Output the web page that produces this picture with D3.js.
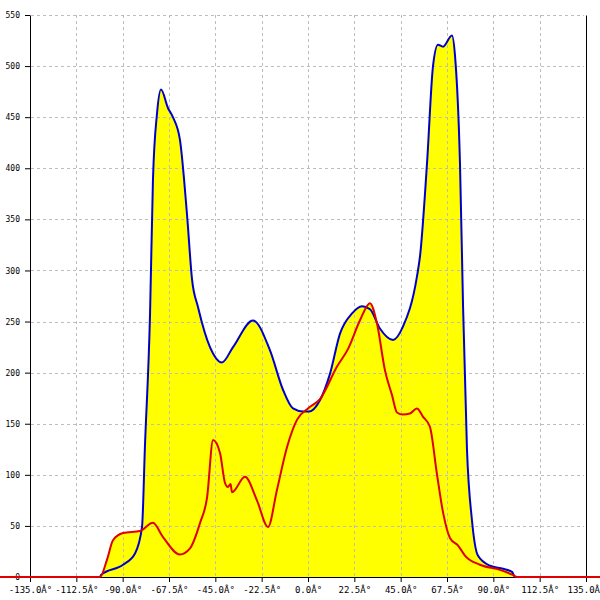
<!DOCTYPE html>
<html><head><meta charset="utf-8">
<script src="https://cdn.jsdelivr.net/npm/d3@7"></script>
<style>body{margin:0;background:#fff}svg{display:block}</style>
</head><body>
<script>
const xTicks = [-135, -112.5, -90, -67.5, -45, -22.5, 0, 22.5, 45, 67.5, 90, 112.5, 135];
const yTicks = [0, 50, 100, 150, 200, 250, 300, 350, 400, 450, 500, 550];
const blueAngles = [-150, -101.0, -100.5, -89.8, -84.0, -80.6, -79.2, -76.7, -75.3, -73.3, -71.4, -68.0, -65.6, -62.2, -58.8, -56.3, -53.4, -47.6, -41.8, -36.4, -26.7, -18.5, -12.1, -7.3, -2.4, 0.5, 5.8, 10.7, 15.5, 21.4, 26.2, 30.1, 35.0, 41.3, 46.1, 52.9, 54.4, 57.8, 60.7, 63.1, 65.6, 69.9, 71.4, 73.8, 75.3, 77.2, 79.6, 82.5, 88.4, 94.7, 99.1, 100.5, 150];
const blueValues = [0, 0, 2, 12, 23, 49, 127, 258, 388, 454, 477, 459, 450, 428, 356, 291, 264, 225, 210, 225, 251, 222, 183, 165, 162, 162, 173, 199, 238, 258, 265, 262, 243, 232, 245, 294, 314, 405, 500, 521, 519, 530, 510, 405, 265, 125, 56, 21, 11, 8, 5, 0, 0];
const redAngles = [-150, -101.0, -97.6, -94.7, -89.8, -81.6, -75.3, -70.4, -62.2, -57.3, -52.4, -49.0, -46.1, -42.7, -40.3, -38.9, -37.6, -36.9, -30.6, -24.8, -19.4, -15.1, -10.2, -5.3, 0.0, 5.8, 14.1, 19.4, 25.2, 30.1, 33.5, 37.4, 40.8, 43.2, 46.1, 49.5, 52.9, 55.8, 59.2, 62.6, 65.6, 69.0, 72.8, 76.2, 83.5, 93.2, 99.5, 101.5, 150];
const redValues = [0, 0, 17, 36, 43, 45, 53, 39, 22, 28, 53, 78, 134, 121, 92, 88, 91, 83, 98, 75, 49, 85, 127, 154, 165, 174, 206, 223, 251, 268, 248, 202, 178, 161, 159, 160, 165, 157, 147, 101, 63, 38, 31, 21, 12, 7, 2, 0, 0];

const blue = blueAngles.map((a, i) => ({a, v: blueValues[i]}));
const red = redAngles.map((a, i) => ({a, v: redValues[i]}));

const W = 600, H = 600;
const svg = d3.select("body").append("svg").attr("width", W).attr("height", H);
const x = d3.scaleLinear().domain([-135, 135]).range([30, 586]);
const y = d3.scaleLinear().domain([0, 550]).range([577, 15]);

// fill areas
const area = d3.area().x(d => x(d.a)).y0(y(0)).y1(d => y(d.v)).curve(d3.curveMonotoneX);
svg.append("path").datum(blue).attr("d", area).attr("fill", "#ffff00");
svg.append("path").datum(red).attr("d", area).attr("fill", "#ffff00");

// grid
const grid = svg.append("g").attr("stroke", "#bdbdbd").attr("stroke-width", 1).attr("stroke-dasharray", "3,3");
yTicks.filter(t => t > 0).forEach(t => {
  grid.append("line").attr("x1", 31).attr("x2", 584).attr("y1", Math.round(y(t)) + 0.5).attr("y2", Math.round(y(t)) + 0.5);
});
xTicks.filter(t => t > -135 && t < 135).forEach(t => {
  grid.append("line").attr("x1", Math.round(x(t)) + 0.5).attr("x2", Math.round(x(t)) + 0.5).attr("y1", 15).attr("y2", 576);
});

// axes
const xAxis = d3.axisBottom(x).tickValues(xTicks).tickSize(5).tickSizeOuter(0)
  .tickFormat(d => d.toFixed(1) + "Â°");
const gx = svg.append("g").attr("transform", `translate(0,${y(0)})`).call(xAxis);
gx.selectAll("text").attr("font-family", "DejaVu Sans Mono").attr("font-size", 9).attr("y", 10).attr("fill", "#000");
gx.selectAll("line,path").attr("stroke", "#000");

const yAxis = d3.axisLeft(y).tickValues(yTicks).tickSize(5).tickSizeOuter(0).tickFormat(d3.format("d"));
const gy = svg.append("g").attr("transform", `translate(${x(-135)},0)`).call(yAxis);
gy.selectAll("text").attr("font-family", "DejaVu Sans Mono").attr("font-size", 8).attr("x", -10).attr("fill", "#000");
gy.selectAll("line,path").attr("stroke", "#000");

const gr = svg.append("g").attr("transform", `translate(${x(135)},0)`).call(d3.axisRight(y).tickValues([]).tickSizeOuter(0));
gr.selectAll("path").attr("stroke", "#000");

// lines
const line = d3.line().x(d => x(d.a)).y(d => y(d.v)).curve(d3.curveMonotoneX);
svg.append("path").datum(blue).attr("d", line).attr("fill", "none").attr("stroke", "#0000cc").attr("stroke-width", 2);
svg.append("path").datum(red).attr("d", line).attr("fill", "none").attr("stroke", "#e00000").attr("stroke-width", 2);
</script>
</body></html>
